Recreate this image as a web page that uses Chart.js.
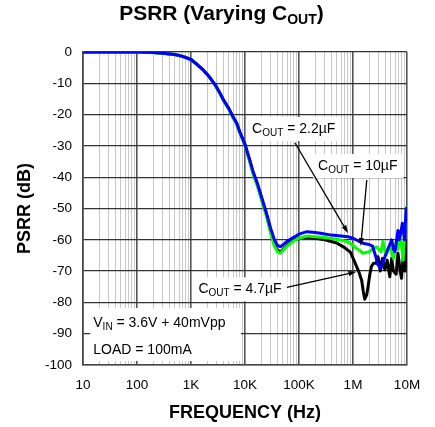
<!DOCTYPE html>
<html lang="en">
<head>
  <meta charset="UTF-8" />
  <title>PSRR (Varying COUT)</title>
  <script src="https://cdn.jsdelivr.net/npm/chart.js"></script>
  <style>
    html, body { margin: 0; padding: 0; background: #fff; }
    #wrap { position: relative; width: 435px; height: 427px; }
    #titulo {
      position: absolute; top: 3px; left: 4px; width: 435px;
      text-align: center; color: #000;
      font: bold 21px 'Liberation Sans', Arial, sans-serif; line-height: 20px;
    }
    #titulo sub { font-size: 14px; vertical-align: baseline; position: relative; top: 4px; }
    canvas { position: absolute; left: 0; top: 0; }
  </style>
</head>
<body>
  <div id="wrap">
    <canvas id="psrr" width="435" height="427"></canvas>
    <div id="titulo">PSRR (Varying C<sub>OUT</sub>)</div>
  </div>

  <script>
    const FAM = "'Liberation Sans', Arial, sans-serif";

    // eixo X: decadas e rotulos
    const decadas = [10, 100, 1e3, 1e4, 1e5, 1e6, 1e7];
    const rotulosDecada = ['10', '100', '1K', '10K', '100K', '1M', '10M'];

    // COUT = 2.2uF (azul)
    const freqAzul = [10, 100, 200, 300, 500, 700, 1000, 1300, 1700, 2200, 2800, 3400, 4000, 5000, 6000, 7000, 8000,
      10000, 12000, 14000, 17000, 20000, 25000, 30000, 35000, 40000, 45000, 50000, 60000, 80000, 100000, 140000,
      200000, 250000, 400000, 600000, 800000, 1e6, 1.3e6, 1.6e6, 2e6, 2.3e6, 2.6e6, 2.9e6, 3.3e6, 3.6e6, 3.9e6,
      4.5e6, 5.2e6, 5.6e6, 6e6, 6.8e6, 7.2e6, 7.8e6, 8.2e6, 9e6, 9.6e6, 1e7];
    const psrrAzul = [0, 0, -0.2, -0.4, -0.8, -1.4, -2.4, -4, -5.8, -8, -10.5, -13, -15.3, -18, -20.7, -22.7, -25.5,
      -29.5, -34, -38, -42, -46, -51.5, -56.5, -60, -61.8, -62.2, -61.7, -60.5, -59.2, -58.2, -57.4,
      -57.7, -57.9, -58.5, -58.8, -59, -59.5, -60.5, -61.2, -61.5, -62, -65, -68, -69, -67, -65.4,
      -62.7, -60, -63, -63.8, -57, -60, -57, -54.7, -60, -50.5, -49.5];

    // COUT = 10uF (verde)
    const freqVerde = [10, 100, 200, 300, 500, 700, 1000, 1300, 1700, 2200, 2800, 3400, 4000, 5000, 6000, 7000, 8000,
      10000, 12000, 14000, 17000, 20000, 25000, 30000, 35000, 40000, 45000, 50000, 60000, 80000, 100000, 140000,
      200000, 300000, 500000, 800000, 1e6, 1.15e6, 1.35e6, 1.55e6, 1.8e6, 2e6, 2.3e6, 2.7e6, 3e6, 3.3e6, 3.6e6,
      4.1e6, 4.5e6, 4.8e6, 5.2e6, 5.6e6, 6.3e6, 6.8e6, 7.2e6, 7.8e6, 8.5e6, 9e6, 9.5e6, 1e7];
    const psrrVerde = [0, 0, -0.2, -0.4, -0.8, -1.4, -2.4, -4, -5.8, -8, -10.6, -13.1, -15.5, -18.2, -21, -23, -25.8,
      -29.8, -34.5, -38.8, -42.8, -47, -52.5, -58, -62, -63.8, -64.3, -63.5, -62, -60.3, -59.5, -58.8,
      -59, -59.3, -59.8, -60.6, -61.8, -62.7, -63.5, -64.3, -64, -63.8, -63, -62.2, -63, -63.8, -60.5,
      -64.9, -63, -62.2, -64, -66, -60.5, -63, -59, -61, -66.5, -56.9, -55, -49.4];

    // COUT = 4.7uF (preto)
    const freqPreto = [10, 100, 200, 300, 500, 700, 1000, 1300, 1700, 2200, 2800, 3400, 4000, 5000, 6000, 7000, 8000,
      10000, 12000, 14000, 17000, 20000, 25000, 30000, 35000, 40000, 45000, 50000, 60000, 80000, 100000, 140000,
      200000, 300000, 500000, 700000, 900000, 1.1e6, 1.3e6, 1.45e6, 1.55e6, 1.65e6, 1.8e6, 1.9e6, 2.05e6, 2.2e6,
      2.4e6, 2.7e6, 2.9e6, 3.2e6, 3.5e6, 3.9e6, 4.3e6, 4.8e6, 5.2e6, 5.6e6, 6.3e6, 6.8e6, 7.5e6, 7.9e6, 8.5e6,
      9.2e6, 9.6e6, 1e7];
    const psrrPreto = [0, 0, -0.2, -0.4, -0.8, -1.4, -2.4, -4, -5.8, -8, -10.5, -13, -15.4, -18.1, -20.8, -22.8, -25.6,
      -29.6, -34.2, -38.4, -42.5, -46.5, -52, -57.5, -61.5, -63.3, -63.8, -63.3, -61.8, -60, -59.6, -59.2,
      -59.5, -60, -61, -62.5, -64, -67.5, -70.5, -73, -76.5, -79, -77.5, -75, -71, -68.5,
      -67.5, -67.5, -65.4, -70, -66, -69.6, -66.5, -71.8, -66, -70, -71, -64.3, -70, -72.3, -66,
      -70, -63.3, -60];

    const pontos = (fs, vs) => fs.map((f, i) => ({ x: f, y: vs[i] }));
    const ticksX = decadas.slice(0, -1).flatMap(d => [1, 2, 3, 4, 5, 6, 7, 8, 9].map(k => k * d)).concat([1e7]);
    const ehDecada = v => v && Math.abs(Math.log10(v) - Math.round(Math.log10(v))) < 1e-6;

    function textoSub(ctx, x, yb, partes, soMedir) {
      for (const [t, sub] of partes) {
        ctx.font = (sub ? '10px ' : '14px ') + FAM;
        if (!soMedir) ctx.fillText(t, x, yb + (sub ? 3 : 0));
        x += ctx.measureText(t).width;
      }
      return x;
    }

    // rotulos: ancora do texto (freq, dB)
    const notas = [
      { f: 13500, db: -25.9, partes: [['C'], ['OUT', true], [' = 2.2µF']] },
      { f: 226000, db: -37.7, partes: [['C'], ['OUT', true], [' = 10µF']] },
      { f: 1370, db: -77.1, partes: [['C'], ['OUT', true], [' = 4.7µF']] }
    ];
    const setas = [
      [84000, -29.0, 811000, -57.9],
      [1.8e6, -40.9, 1.39e6, -62.0],
      [59700, -75.2, 1.16e6, -70.2]
    ];

    const notasPlugin = {
      id: 'notas',
      beforeDatasetsDraw(chart) {
        const { ctx, scales: { x, y } } = chart;
        ctx.save();
        ctx.textBaseline = 'alphabetic';
        notas.forEach(n => {
          const px = x.getPixelForValue(n.f), py = y.getPixelForValue(n.db);
          const w = textoSub(ctx, 0, py, n.partes, true);
          ctx.fillStyle = '#fff';
          ctx.fillRect(px - 5, py - 16, w + 11, 24);
          ctx.fillStyle = '#000';
          textoSub(ctx, px, py, n.partes);
        });
        // caixa de condicoes
        const bx0 = x.getPixelForValue(13.6), bx1 = x.getPixelForValue(8400);
        const by0 = y.getPixelForValue(-81.8), by1 = y.getPixelForValue(-98.7);
        ctx.fillStyle = '#fff';
        ctx.fillRect(bx0, by0, bx1 - bx0, by1 - by0);
        ctx.fillStyle = '#000';
        const tx = x.getPixelForValue(15.5);
        textoSub(ctx, tx, y.getPixelForValue(-87.7), [['V'], ['IN', true], [' = 3.6V + 40mVpp']]);
        textoSub(ctx, tx, y.getPixelForValue(-96.4), [['LOAD = 100mA']]);
        ctx.restore();
      },
      afterDatasetsDraw(chart) {
        const { ctx, scales: { x, y } } = chart;
        ctx.save();
        ctx.strokeStyle = '#000';
        ctx.fillStyle = '#000';
        ctx.lineWidth = 1.3;
        setas.forEach(([f0, d0, f1, d1]) => {
          const x0 = x.getPixelForValue(f0), y0 = y.getPixelForValue(d0);
          const x1 = x.getPixelForValue(f1), y1 = y.getPixelForValue(d1);
          const a = Math.atan2(y1 - y0, x1 - x0);
          ctx.beginPath();
          ctx.moveTo(x0, y0);
          ctx.lineTo(x1 - 6 * Math.cos(a), y1 - 6 * Math.sin(a));
          ctx.stroke();
          ctx.beginPath();
          ctx.moveTo(x1, y1);
          ctx.lineTo(x1 - 8 * Math.cos(a) + 2.5 * Math.sin(a), y1 - 8 * Math.sin(a) - 2.5 * Math.cos(a));
          ctx.lineTo(x1 - 8 * Math.cos(a) - 2.5 * Math.sin(a), y1 - 8 * Math.sin(a) + 2.5 * Math.cos(a));
          ctx.closePath();
          ctx.fill();
        });
        ctx.restore();
      }
    };

    Chart.defaults.font.family = FAM;
    Chart.defaults.color = '#000';

    new Chart(document.getElementById('psrr'), {
      type: 'line',
      data: {
        datasets: [
          { label: 'COUT = 2.2µF', data: pontos(freqAzul, psrrAzul), borderColor: '#0000ff' },
          { label: 'COUT = 10µF', data: pontos(freqVerde, psrrVerde), borderColor: '#00ff00' },
          { label: 'COUT = 4.7µF', data: pontos(freqPreto, psrrPreto), borderColor: '#000000' }
        ]
      },
      options: {
        responsive: false,
        animation: false,
        elements: {
          line: { borderWidth: 3, tension: 0, borderJoinStyle: 'round' },
          point: { radius: 0 }
        },
        layout: { padding: { top: 52, right: 28, left: 0, bottom: 0 } },
        plugins: { legend: { display: false }, tooltip: { enabled: false }, title: { display: false } },
        scales: {
          x: {
            type: 'logarithmic',
            min: 10,
            max: 1e7,
            afterFit: s => { s.height = 62; },
            afterBuildTicks: s => { s.ticks = ticksX.map(v => ({ value: v })); },
            ticks: {
              autoSkip: false,
              maxRotation: 0,
              padding: 12,
              font: { size: 13.5 },
              callback: v => {
                const i = decadas.findIndex(d => Math.abs(d - v) < 1e-6 * d);
                return i >= 0 ? rotulosDecada[i] : '';
              }
            },
            grid: {
              z: -2,
              drawTicks: false,
              color: c => ehDecada(c.tick && c.tick.value) ? '#555' : '#c8c8c8',
              lineWidth: c => ehDecada(c.tick && c.tick.value) ? 1.6 : 1
            },
            border: { color: '#444', width: 1.5 },
            title: {
              display: true,
              text: 'FREQUENCY (Hz)',
              font: { size: 18, weight: 'bold' },
              padding: { top: 0, bottom: 3 }
            }
          },
          y: {
            min: -100,
            max: 0,
            afterFit: s => { s.width = 83; },
            ticks: { stepSize: 10, padding: 11, font: { size: 13.5 } },
            grid: { z: -1, drawTicks: false, color: '#333', lineWidth: 1.3 },
            border: { color: '#444', width: 1.5 },
            title: {
              display: true,
              text: 'PSRR (dB)',
              font: { size: 18, weight: 'bold' },
              padding: { top: 14, bottom: 0 }
            }
          }
        }
      },
      plugins: [notasPlugin]
    });
  </script>
</body>
</html>
